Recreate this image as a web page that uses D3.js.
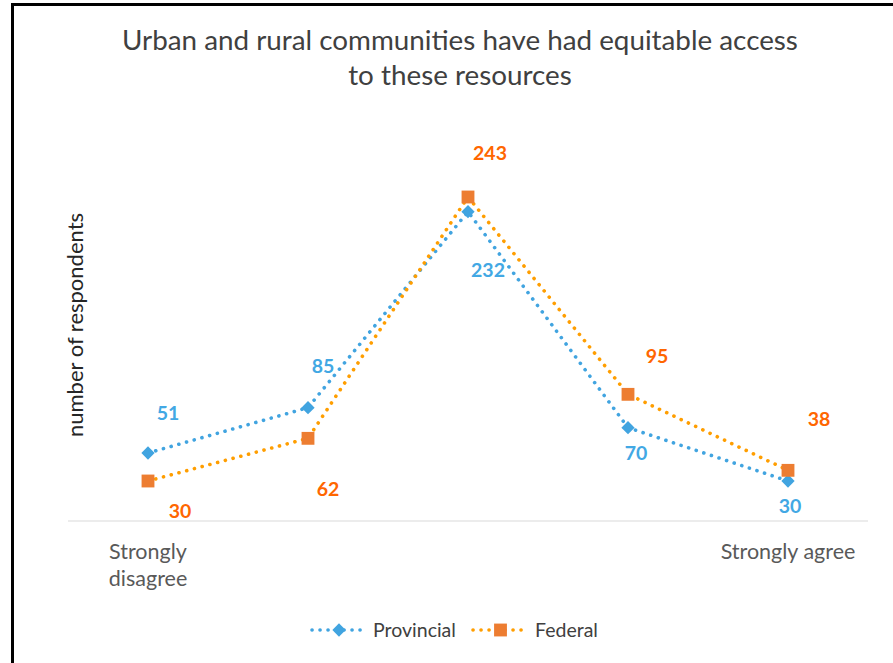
<!DOCTYPE html>
<html>
<head>
<meta charset="utf-8">
<script src="https://cdn.jsdelivr.net/npm/d3@7"></script>
<style>
  html, body { margin: 0; padding: 0; background: #fff; }
  svg { display: block; font-family: Lato, "Open Sans", sans-serif; }
</style>
</head>
<body>
<svg id="chart" width="893" height="663"></svg>
<script>
// Survey responses: "Urban and rural communities have had equitable access to these resources"
const categories = ["Strongly disagree", "", " ", "  ", "Strongly agree"];
const provincial = [51, 85, 232, 70, 30];
const federal = [30, 62, 243, 95, 38];
const seriesNames = ["Provincial", "Federal"];
const yTicks = [0, 300];

// Label placement relative to each point (dx, dy of label centre)
const provLabelOffset = [[20, -40], [15, -42], [20, 58], [8, 25], [2, 25]];
const fedLabelOffset = [[32, 30], [20, 51], [22, -44], [29, -38], [31, -51]];

const W = 893, H = 663;
const svg = d3.select("#chart");

const x = d3.scalePoint().domain(categories).range([68, 868]).padding(0.5);
const y = d3.scaleLinear().domain([yTicks[0], yTicks[1]]).range([521, 121]);

// Frame
svg.append("rect")
  .attr("x", 12.5).attr("y", 4.5)
  .attr("width", W + 20).attr("height", H + 20)
  .attr("fill", "none").attr("stroke", "#000").attr("stroke-width", 3);

// Title
const title = svg.append("text")
  .attr("text-anchor", "middle")
  .attr("fill", "#404040")
  .attr("font-size", 27.8);
title.append("tspan").attr("x", 460).attr("y", 50).text("Urban and rural communities have had equitable access");
title.append("tspan").attr("x", 460).attr("y", 85).text("to these resources");

// Y axis title
svg.append("text")
  .attr("transform", "translate(83,325) rotate(-90)")
  .attr("text-anchor", "middle")
  .attr("fill", "#262626")
  .attr("font-size", 22)
  .text("number of respondents");

// X axis baseline
svg.append("line")
  .attr("x1", 68).attr("x2", 868)
  .attr("y1", y(0)).attr("y2", y(0))
  .attr("stroke", "#d9d9d9").attr("stroke-width", 1.2);

// Category labels (wrapped on words where space is tight)
const catLines = { "Strongly disagree": ["Strongly", "disagree"], "Strongly agree": ["Strongly agree"] };
categories.forEach(c => {
  const lines = catLines[c];
  if (!lines) return;
  const t = svg.append("text")
    .attr("text-anchor", "middle")
    .attr("fill", "#595959")
    .attr("font-size", 21.5);
  lines.forEach((ln, i) => {
    t.append("tspan").attr("x", x(c)).attr("y", 559 + i * 27).text(ln);
  });
});

const series = [
  { name: seriesNames[0], values: provincial, line: "#41a4e0", marker: "#41a4e0", label: "#42a8e4", diamond: true, offs: provLabelOffset },
  { name: seriesNames[1], values: federal, line: "#ff9e00", marker: "#ed7d31", label: "#ff6600", diamond: false, offs: fedLabelOffset }
];

const line = d3.line().x((d, i) => x(categories[i])).y(d => y(d));

function dotted(sel, color) {
  return sel.attr("fill", "none")
    .attr("stroke", color)
    .attr("stroke-width", 3.6)
    .attr("stroke-linecap", "round")
    .attr("stroke-dasharray", "0.1 7.9");
}

// Diamond = square turned 45 degrees; square markers drawn upright
function marker(sel, s, tx, ty) {
  return sel.attr("d", d3.symbol().type(d3.symbolSquare).size(s.diamond ? 88 : 165)())
    .attr("fill", s.marker)
    .attr("transform", `translate(${tx},${ty})${s.diamond ? " rotate(45)" : ""}`);
}

series.forEach(s => {
  dotted(svg.append("path").datum(s.values).attr("d", line), s.line);
  s.values.forEach((d, i) => {
    svg.append("path").call(marker, s, x(categories[i]), y(d));
  });
});

// Value labels
series.forEach(s => {
  svg.selectAll(null).data(s.values).enter().append("text")
    .attr("x", (d, i) => x(categories[i]) + s.offs[i][0])
    .attr("y", (d, i) => y(d) + s.offs[i][1])
    .attr("dy", "0.36em")
    .attr("text-anchor", "middle")
    .attr("font-size", 19.5)
    .attr("font-weight", "bold")
    .attr("fill", s.label)
    .text(d => d);
});

// Legend
const legendItems = [{ s: series[0], x0: 312, x1: 366, tx: 373 }, { s: series[1], x0: 473, x1: 528, tx: 535 }];
legendItems.forEach(it => {
  const ly = 630;
  dotted(svg.append("line").attr("x1", it.x0).attr("x2", it.x1).attr("y1", ly).attr("y2", ly), it.s.line);
  svg.append("path").call(marker, it.s, (it.x0 + it.x1) / 2, ly);
  svg.append("text")
    .attr("x", it.tx).attr("y", ly).attr("dy", "0.36em")
    .attr("fill", "#404040").attr("font-size", 19.5)
    .text(it.s.name);
});
</script>
</body>
</html>
